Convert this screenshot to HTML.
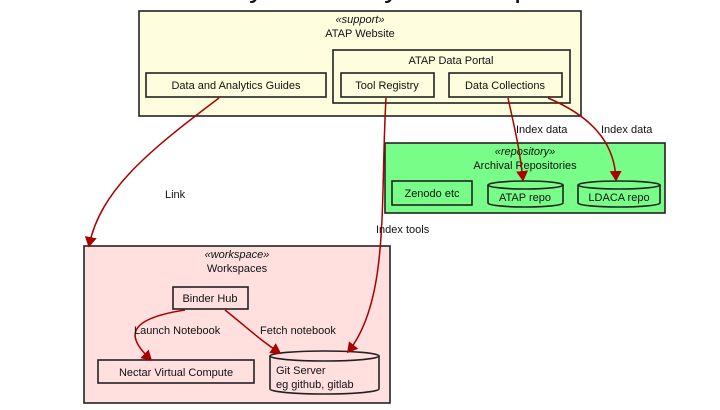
<!DOCTYPE html>
<html><head><meta charset="utf-8"><style>
body{margin:0;background:#fff;width:720px;height:405px;overflow:hidden}
text{font-family:"Liberation Sans",sans-serif;font-size:11px;fill:#111}
.b{fill:none;stroke:#222;stroke-width:1.6}
.a{fill:none;stroke:#a00;stroke-width:1.5}
</style></head><body>
<svg width="720" height="405" viewBox="0 0 720 405">
<defs><marker id="m" markerWidth="8" markerHeight="8" refX="6" refY="4" orient="auto"><path d="M0,0 L7,4 L0,8 z" fill="#a00"/></marker></defs>
<text x="360" y="-3" text-anchor="middle" style="font-size:30px">Analytics Ecosystem Map</text>
<rect x="139" y="11" width="442" height="105" class="b" style="fill:#fefede"/>
<text x="360" y="23" text-anchor="middle" font-style="italic">«support»</text>
<text x="360" y="37" text-anchor="middle">ATAP Website</text>
<rect x="333" y="50" width="237" height="53" class="b"/>
<text x="451" y="64" text-anchor="middle">ATAP Data Portal</text>
<rect x="146" y="73" width="180" height="24" class="b"/>
<text x="236" y="89" text-anchor="middle">Data and Analytics Guides</text>
<rect x="341" y="73" width="93" height="24" class="b"/>
<text x="387" y="89" text-anchor="middle">Tool Registry</text>
<rect x="449" y="73" width="113" height="24" class="b"/>
<text x="505" y="89" text-anchor="middle">Data Collections</text>

<rect x="385" y="143" width="280" height="70" class="b" style="fill:#77fd88"/>
<text x="525" y="155" text-anchor="middle" font-style="italic">«repository»</text>
<text x="525" y="169" text-anchor="middle">Archival Repositories</text>
<rect x="392" y="181" width="80" height="24" class="b"/>
<text x="432" y="197" text-anchor="middle">Zenodo etc</text>
<path d="M488,185 v18 a37.5,4 0 0 0 75,0 v-18" class="b"/><ellipse cx="525.5" cy="185" rx="37.5" ry="4" class="b"/>
<text x="525" y="201" text-anchor="middle">ATAP repo</text>
<path d="M578,185 v18 a41,4 0 0 0 82,0 v-18" class="b"/><ellipse cx="619" cy="185" rx="41" ry="4" class="b"/>
<text x="619" y="201" text-anchor="middle">LDACA repo</text>

<rect x="84" y="246" width="306" height="157" class="b" style="fill:#ffe0df"/>
<text x="237" y="258" text-anchor="middle" font-style="italic">«workspace»</text>
<text x="237" y="272" text-anchor="middle">Workspaces</text>
<rect x="173" y="287" width="75" height="22" class="b"/>
<text x="210" y="302" text-anchor="middle">Binder Hub</text>
<rect x="98" y="360" width="156" height="23" class="b"/>
<text x="176" y="376" text-anchor="middle">Nectar Virtual Compute</text>
<path d="M270,356 v33 a54.5,5 0 0 0 109,0 v-33" class="b"/><ellipse cx="324.5" cy="356" rx="54.5" ry="5" class="b"/>
<text x="276" y="374">Git Server</text>
<text x="276" y="388">eg github, gitlab</text>

<path d="M219,98 C150,150 100,190 89,246" class="a" marker-end="url(#m)"/>
<path d="M386,98 C380,200 390,300 348,352" class="a" marker-end="url(#m)"/>
<path d="M508,98 C515,130 520,150 523,180" class="a" marker-end="url(#m)"/>
<path d="M548,98 C600,120 615,150 616,180" class="a" marker-end="url(#m)"/>
<path d="M185,310 C120,320 130,340 151,360" class="a" marker-end="url(#m)"/>
<path d="M225,310 C250,330 260,340 280,353" class="a" marker-end="url(#m)"/>
<text x="165" y="198">Link</text>
<text x="376" y="233">Index tools</text>
<text x="516" y="133">Index data</text>
<text x="601" y="133">Index data</text>
<text x="134" y="334">Launch Notebook</text>
<text x="260" y="334">Fetch notebook</text>
</svg>
</body></html>
